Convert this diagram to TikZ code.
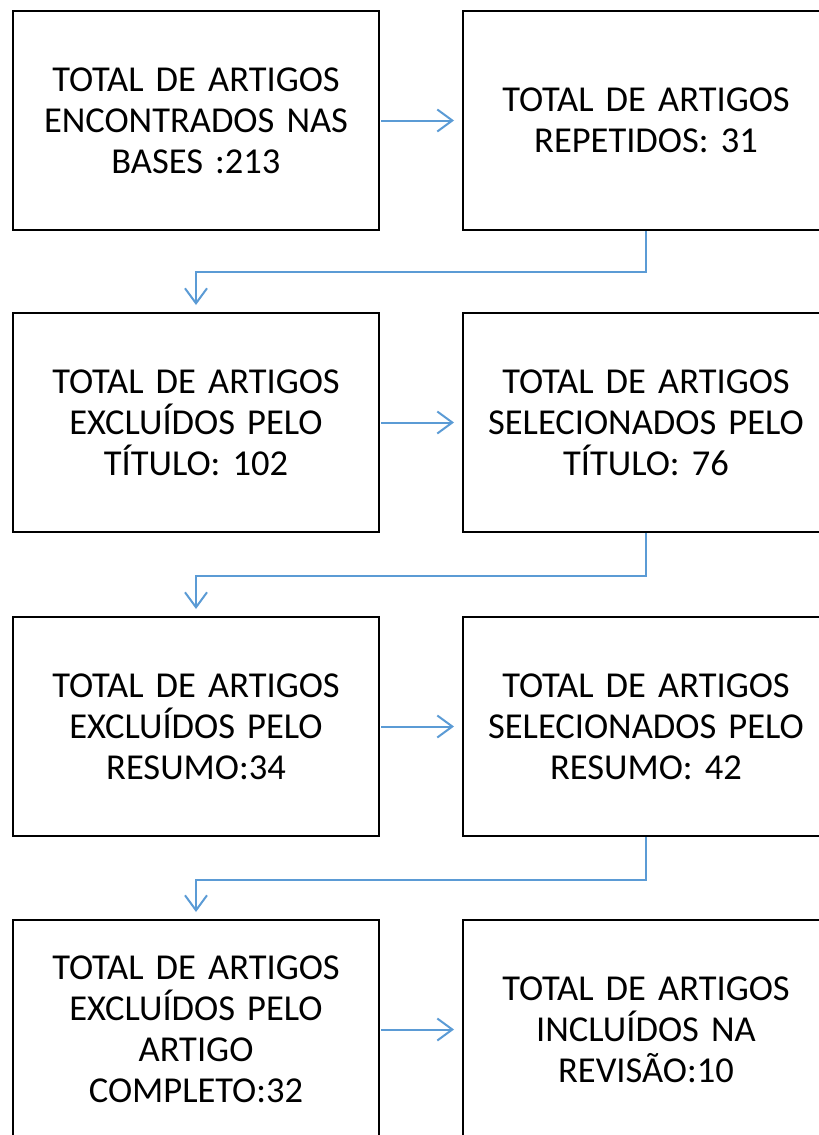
\documentclass[tikz,border=0pt]{standalone}
\usepackage{fontspec}
\setmainfont{Carlito}
\usetikzlibrary{arrows.meta,positioning}
\definecolor{flowblue}{HTML}{5B9BD5}
\begin{document}
\begin{tikzpicture}[x=1pt,y=-1pt,
  box/.style={draw=black,line width=2pt,rectangle,minimum width=366pt,minimum height=219pt,
    inner sep=0pt,align=center,text width=340pt,font=\fontsize{36.5}{41}\selectfont},
  flow/.style={draw=flowblue,line width=2pt,-{Straight Barb[length=15pt,width=22pt,line width=2pt]}}]
\useasboundingbox (0,0) rectangle (819,1135);
\node[box] (a1) at (196,120.5) {TOTAL DE ARTIGOS\\ENCONTRADOS NAS\\BASES :213};
\node[box] (b1) at (646,120.5) {TOTAL DE ARTIGOS\\REPETIDOS: 31};
\node[box] (a2) at (196,422.5) {TOTAL DE ARTIGOS\\EXCLUÍDOS PELO\\TÍTULO: 102};
\node[box] (b2) at (646,422.5) {TOTAL DE ARTIGOS\\SELECIONADOS PELO\\TÍTULO: 76};
\node[box] (a3) at (196,726.5) {TOTAL DE ARTIGOS\\EXCLUÍDOS PELO\\RESUMO:34};
\node[box] (b3) at (646,726.5) {TOTAL DE ARTIGOS\\SELECIONADOS PELO\\RESUMO: 42};
\node[box] (a4) at (196,1029.5) {TOTAL DE ARTIGOS\\EXCLUÍDOS PELO\\ARTIGO\\COMPLETO:32};
\node[box] (b4) at (646,1029.5) {TOTAL DE ARTIGOS\\INCLUÍDOS NA\\REVISÃO:10};
\draw[flow,shorten <=1pt,shorten >=8pt] (a1.east) -- (b1.west);
\draw[flow,shorten <=1pt,shorten >=8pt] (a2.east) -- (b2.west);
\draw[flow,shorten <=1pt,shorten >=8pt] (a3.east) -- (b3.west);
\draw[flow,shorten <=1pt,shorten >=8pt] (a4.east) -- (b4.west);
\draw[flow,shorten >=7pt] (b1.south) -- ++(0,41) -| (a2.north);
\draw[flow,shorten >=7pt] (b2.south) -- ++(0,43) -| (a3.north);
\draw[flow,shorten >=7pt] (b3.south) -- ++(0,43) -| (a4.north);
\end{tikzpicture}
\end{document}
